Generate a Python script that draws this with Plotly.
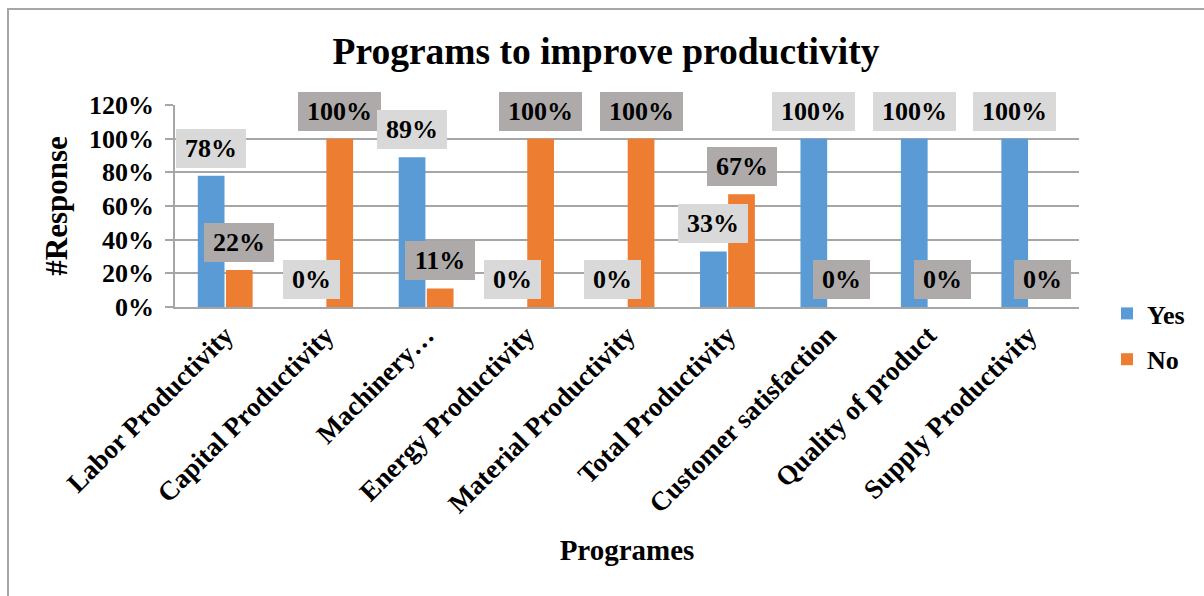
import plotly.graph_objects as go

# Survey responses per programme
programmes = [
    "Labor Productivity",
    "Capital Productivity",
    "Machinery…",
    "Energy Productivity",
    "Material Productivity",
    "Total Productivity",
    "Customer satisfaction",
    "Quality of product",
    "Supply Productivity",
]
yes_share = [0.78, 0.00, 0.89, 0.00, 0.00, 0.33, 1.00, 1.00, 1.00]
no_share = [0.22, 1.00, 0.11, 1.00, 1.00, 0.67, 0.00, 0.00, 0.00]
y_ticks = [0, 0.2, 0.4, 0.6, 0.8, 1.0, 1.2]

FONT = "Liberation Serif"
BLUE = "#5B9BD5"
ORANGE = "#ED7D31"
GRID = "#A6A6A6"
LABEL_LIGHT = "#D9D9D9"
LABEL_DARK = "#AEAAAA"

W, H = 1204, 596
L, R, T, B = 175, 125, 105, 289

fig = go.Figure()
fig.add_trace(go.Bar(name="Yes", x=programmes, y=yes_share, marker_color=BLUE,
                     marker_line_width=0, legendgroup="yes"))
fig.add_trace(go.Bar(name="No", x=programmes, y=no_share, marker_color=ORANGE,
                     marker_line_width=0, legendgroup="no"))

# Value labels in shaded boxes just above each bar
half_offset = 0.14  # bar centre offset from category centre (category units)
label_font = dict(family=FONT, size=26, color="black", weight="bold")


def text_width(s, size=26):
    # Times-metric width: digits half an em, percent sign a full em
    em = sum(1.0 if ch == "%" else 0.5 for ch in s)
    return em * size


for i in range(len(programmes)):
    for vals, off, bg in ((yes_share, -half_offset, LABEL_LIGHT),
                          (no_share, half_offset, LABEL_DARK)):
        txt = f"{round(vals[i] * 100)}%"
        fig.add_annotation(
            x=i + off, y=vals[i], xref="x", yref="y",
            text=txt, showarrow=False,
            xanchor="center", yanchor="bottom", yshift=8,
            font=label_font, bgcolor=bg, borderpad=4, borderwidth=1,
            bordercolor=bg, width=text_width(txt) + 8, height=29,
        )

# Outer chart frame
fig.add_shape(type="rect", xref="paper", yref="paper",
              x0=(8 - L) / (W - L - R), x1=1.16,
              y0=-1.6, y1=(H - B - 9) / (H - T - B),
              line=dict(color=GRID, width=2), fillcolor="rgba(0,0,0,0)", layer="below")

fig.update_layout(
    width=W, height=H,
    margin=dict(l=L, r=R, t=T, b=B, autoexpand=False),
    paper_bgcolor="white", plot_bgcolor="white",
    barmode="group", bargap=0.44, bargroupgap=0.05,
    font=dict(family=FONT, color="black"),
    title=dict(text="Programs to improve productivity", x=606 / W, xanchor="center",
               y=1 - 51 / H, yanchor="middle", yref="container",
               font=dict(family=FONT, size=37.5, color="black", weight="bold")),
    legend=dict(x=(1107 - L) / (W - L - R), xanchor="left",
                y=(H - B - 290) / (H - T - B), yanchor="top",
                font=dict(family=FONT, size=26, color="black", weight="bold"),
                itemwidth=30, bgcolor="rgba(0,0,0,0)",
                traceorder="grouped", tracegroupgap=9),
    showlegend=True,
)

fig.update_xaxes(
    type="category", automargin=False,
    tickangle=-45, tickfont=dict(family=FONT, size=27, color="black", weight="bold"),
    showline=True, linecolor=GRID, linewidth=1.5, ticks="", showgrid=False,
    title=dict(text="Programes", standoff=22,
               font=dict(family=FONT, size=29, color="black", weight="bold")),
)
fig.update_yaxes(
    range=[0, 1.2], tickvals=y_ticks, tickformat=".0%", automargin=False,
    tickfont=dict(family=FONT, size=26, color="black", weight="bold"),
    showgrid=True, gridcolor=GRID, gridwidth=1.5,
    showline=True, linecolor=GRID, linewidth=1.5,
    ticks="outside", ticklen=8, tickcolor=GRID, tickwidth=1.5,
    ticklabelstandoff=6,
    zeroline=False,
    title=dict(text="#Response", standoff=12,
               font=dict(family=FONT, size=31, color="black", weight="bold")),
)

fig.write_html("out.html")
